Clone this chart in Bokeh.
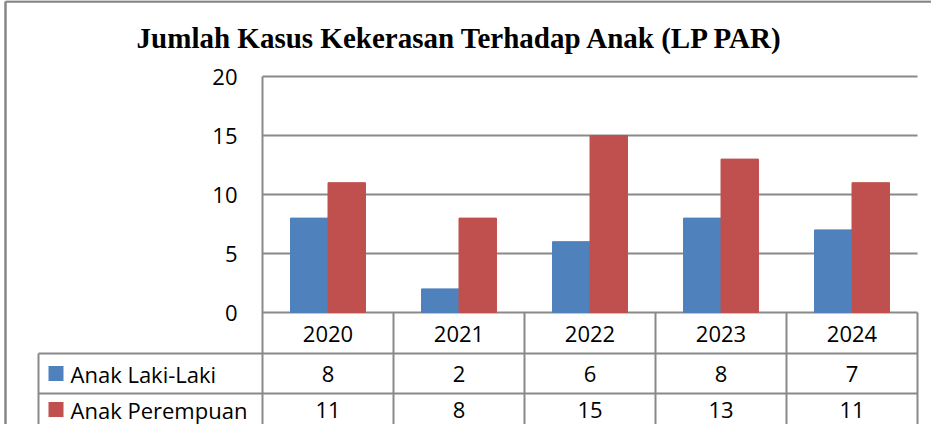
from bokeh.plotting import figure
from bokeh.models import Range1d
from bokeh.core.properties import value
from bokeh.embed import file_html
from bokeh.resources import INLINE

# ---- data ----
years = ["2020", "2021", "2022", "2023", "2024"]
laki_laki = [8, 2, 6, 8, 7]
perempuan = [11, 8, 15, 13, 11]
y_ticks = [0, 5, 10, 15, 20]
series_names = ["Anak Laki-Laki", "Anak Perempuan"]
series_colors = ["#4F81BD", "#C0504D"]
title_text = "Jumlah Kasus Kekerasan Terhadap Anak (LP PAR)"

# ---- layout (pixels in figure coordinates) ----
W, H = 931, 424
PX_X0 = 262.0      # x pixel of category axis start
PX_CAT = 131.0     # pixels per category
PX_Y0 = 312.0      # y pixel of value 0
PX_UNIT = 11.8     # pixels per value unit
GRAY = "#898989"
FONT = "Open Sans"


def fx(px):
    return (px - PX_X0) / PX_CAT


def fy(py):
    return (PX_Y0 - py) / PX_UNIT


p = figure(width=W, height=H, output_backend="svg", toolbar_location=None,
           x_range=Range1d(fx(0), fx(W)), y_range=Range1d(fy(H), fy(0)),
           x_axis_location=None, y_axis_location=None, min_border=0,
           background_fill_color="white", border_fill_color="white")
p.outline_line_color = None
p.grid.visible = False

n = len(years)
ymax = max(y_ticks)
x_left, x_right = 0, n
bottom = fy(H)

# outer chart border (left and top)
p.segment(x0=[fx(5), fx(5)], y0=[fy(1), fy(1)], x1=[fx(5), fx(W)], y1=[bottom, fy(1)],
          line_color="#868686", line_width=2.5)

# title
p.text(x=[fx(460)], y=[fy(37)], text=[title_text], text_align="center",
       text_baseline="middle", text_font=value("Liberation Serif"),
       text_font_style="bold", text_font_size="29px", text_color="black")

# gridlines
p.segment(x0=[x_left] * len(y_ticks), y0=y_ticks, x1=[x_right] * len(y_ticks), y1=y_ticks,
          line_color=GRAY, line_width=2)
# y tick labels
p.text(x=[fx(237)] * len(y_ticks), y=y_ticks, text=[str(t) for t in y_ticks],
       text_align="right", text_baseline="middle", text_font=value(FONT),
       text_font_size="22px", text_color="black")

# bars
bw = 0.286
centers = [i + 0.5 for i in range(n)]
p.vbar(x=[c - bw / 2 for c in centers], top=laki_laki, bottom=0, width=bw,
       fill_color=series_colors[0], line_color=series_colors[0])
p.vbar(x=[c + bw / 2 for c in centers], top=perempuan, bottom=0, width=bw,
       fill_color=series_colors[1], line_color=series_colors[1])

# axis line (continues as table border)
p.segment(x0=[x_left], y0=[ymax], x1=[x_left], y1=[bottom], line_color=GRAY, line_width=2)

# data table
row_line1 = fy(353)
row_line2 = fy(393)
lab_left = fx(38)
p.segment(x0=[i for i in range(1, n + 1)], y0=[0] * n, x1=[i for i in range(1, n + 1)],
          y1=[bottom] * n, line_color=GRAY, line_width=2)
p.segment(x0=[lab_left, lab_left, lab_left], y0=[row_line1, row_line2, row_line1],
          x1=[x_right, x_right, lab_left], y1=[row_line1, row_line2, bottom],
          line_color=GRAY, line_width=2)

# year row
p.text(x=centers, y=[fy(333)] * n, text=years, text_align="center",
       text_baseline="middle", text_font=value(FONT), text_font_size="22px",
       text_color="black")
# value rows
row_y = [fy(373), fy(409)]
for vals, ry in zip([laki_laki, perempuan], row_y):
    p.text(x=centers, y=[ry] * n, text=[str(v) for v in vals], text_align="center",
           text_baseline="middle", text_font=value(FONT), text_font_size="22px",
           text_color="black")
# legend keys in table
p.scatter(x=[fx(55.5)] * 2, y=row_y, marker="square", size=15,
          fill_color=series_colors, line_color=None)
p.text(x=[fx(70)] * 2, y=row_y, text=series_names, text_align="left",
       text_baseline="middle", text_font=value(FONT), text_font_size="22px",
       text_color="black")

open("out.html", "w").write(file_html(p, INLINE))
